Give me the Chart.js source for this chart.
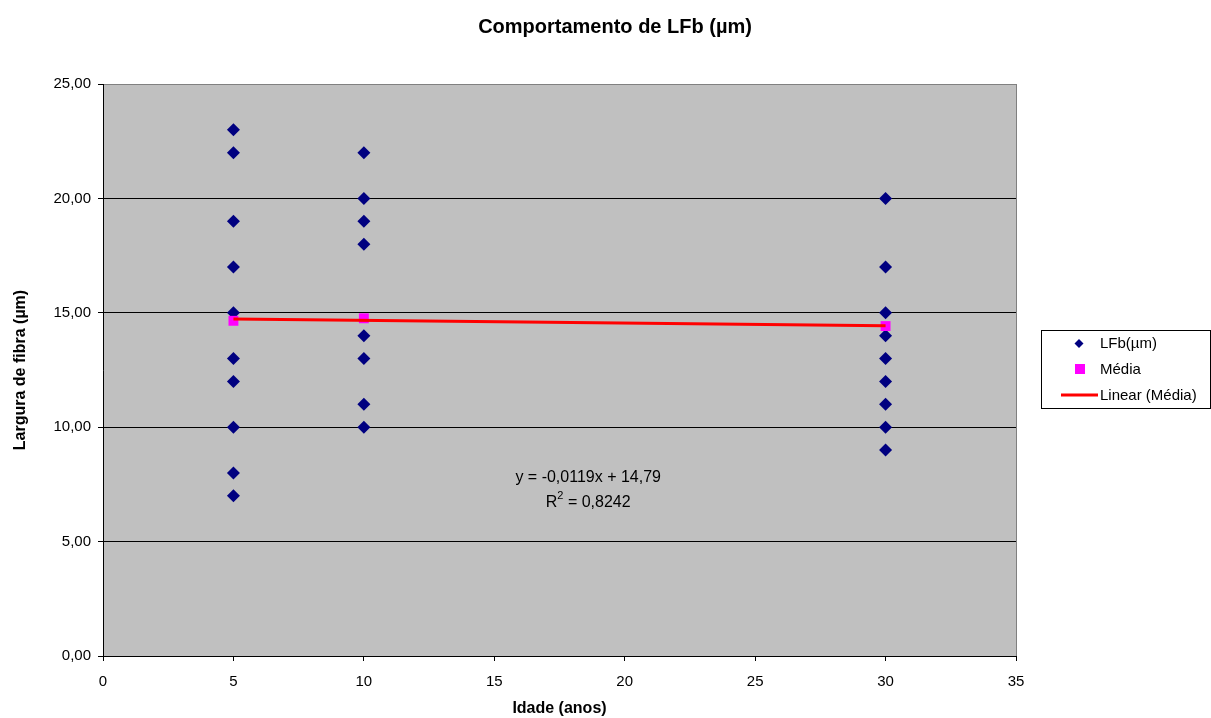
<!DOCTYPE html>
<html lang="pt">
<head>
    <meta charset="UTF-8">
    <title>Comportamento de LFb</title>
    <style>
        body {
            margin: 0;
            background-color: #ffffff;
        }
        #chart {
            display: block;
        }
    </style>
</head>
<body>
    <canvas id="chart" width="1211" height="718"></canvas>

    <script src="https://cdn.jsdelivr.net/npm/chart.js"></script>
    <script>
        // Largura de fibra (µm) por idade
        const idades = [5, 10, 30];
        const lfb5 = [23, 22, 19, 17, 15, 13, 12, 10, 8, 7];
        const lfb10 = [22, 20, 19, 18, 14, 13, 11, 10];
        const lfb30 = [20, 17, 15, 14, 13, 12, 11, 10, 9];
        const medias = [14.65, 14.76, 14.42];

        // linha de tendência: y = -0,0119x + 14,79
        const trendSlope = -0.0119;
        const trendIntercept = 14.79;
        const trendR2 = 0.8242;

        const xTicks = [0, 5, 10, 15, 20, 25, 30, 35];
        const yTicks = [0, 5, 10, 15, 20, 25];

        const FONT = 'Liberation Sans, Arial, sans-serif';
        const fmt = (v, d) => v.toFixed(d).replace('.', ',');

        const pontos = [];
        [lfb5, lfb10, lfb30].forEach((serie, i) => {
            serie.forEach(v => pontos.push({ x: idades[i], y: v }));
        });
        const mediaPts = idades.map((x, i) => ({ x: x, y: medias[i] }));
        const trendPts = [idades[0], idades[idades.length - 1]].map(x => ({
            x: x, y: trendSlope * x + trendIntercept
        }));

        // fundo cinza da área de plotagem
        const plotBg = {
            id: 'plotBg',
            beforeDraw(chart) {
                const { ctx, chartArea: a } = chart;
                ctx.save();
                ctx.fillStyle = '#c0c0c0';
                ctx.fillRect(a.left, a.top, a.right - a.left, a.bottom - a.top);
                ctx.strokeStyle = '#808080';
                ctx.lineWidth = 1;
                ctx.strokeRect(Math.round(a.left) + 0.5, Math.round(a.top) + 0.5,
                    Math.round(a.right - a.left), Math.round(a.bottom - a.top));
                ctx.restore();
            }
        };

        // título, equação e legenda
        const extras = {
            id: 'extras',
            afterDraw(chart) {
                const { ctx, scales: { x, y } } = chart;
                ctx.save();
                ctx.fillStyle = '#000';
                ctx.textBaseline = 'middle';

                ctx.font = 'bold 20px ' + FONT;
                ctx.textAlign = 'center';
                ctx.fillText('Comportamento de LFb (µm)', 615, 27);

                // equação da tendência
                const ex = x.getPixelForValue(18.6);
                const ey = y.getPixelForValue(7.8);
                ctx.font = '16px ' + FONT;
                ctx.fillText('y = ' + fmt(trendSlope, 4) + 'x + ' + fmt(trendIntercept, 2), ex, ey);
                const rest = ' = ' + fmt(trendR2, 4);
                const wR = ctx.measureText('R').width;
                ctx.font = '11px ' + FONT;
                const w2 = ctx.measureText('2').width;
                ctx.font = '16px ' + FONT;
                const wRest = ctx.measureText(rest).width;
                const sx = ex - (wR + w2 + wRest) / 2;
                const ry = ey + 25;
                ctx.textAlign = 'left';
                ctx.fillText('R', sx, ry);
                ctx.font = '11px ' + FONT;
                ctx.fillText('2', sx + wR, ry - 7);
                ctx.font = '16px ' + FONT;
                ctx.fillText(rest, sx + wR + w2, ry);

                // legenda
                ctx.strokeStyle = '#000';
                ctx.lineWidth = 1;
                ctx.strokeRect(1041.5, 330.5, 169, 78);
                ctx.font = '15px ' + FONT;
                ctx.fillStyle = '#000080';
                ctx.beginPath();
                ctx.moveTo(1079, 339);
                ctx.lineTo(1083.5, 343.5);
                ctx.lineTo(1079, 348);
                ctx.lineTo(1074.5, 343.5);
                ctx.closePath();
                ctx.fill();
                ctx.fillStyle = '#ff00ff';
                ctx.fillRect(1075, 364, 10, 10);
                ctx.strokeStyle = '#ff0000';
                ctx.lineWidth = 3;
                ctx.beginPath();
                ctx.moveTo(1061, 395);
                ctx.lineTo(1098, 395);
                ctx.stroke();
                ctx.fillStyle = '#000';
                ctx.fillText('LFb(µm)', 1100, 344);
                ctx.fillText('Média', 1100, 370);
                ctx.fillText('Linear (Média)', 1100, 396);
                ctx.restore();
            }
        };

        const ctx = document.getElementById('chart').getContext('2d');
        const chart = new Chart(ctx, {
            type: 'scatter',
            data: {
                datasets: [
                    {
                        label: 'Linear (Média)',
                        type: 'line',
                        data: trendPts,
                        borderColor: '#ff0000',
                        borderWidth: 3,
                        pointRadius: 0,
                        showLine: true,
                        order: 0
                    },
                    {
                        label: 'Média',
                        data: mediaPts,
                        pointStyle: 'rect',
                        pointRadius: 7,
                        backgroundColor: '#ff00ff',
                        borderColor: '#ff00ff',
                        borderWidth: 0,
                        order: 1
                    },
                    {
                        label: 'LFb(µm)',
                        data: pontos,
                        pointStyle: 'rectRot',
                        pointRadius: 6.5,
                        backgroundColor: '#000080',
                        borderColor: '#000080',
                        borderWidth: 0,
                        order: 2
                    }
                ]
            },
            options: {
                responsive: false,
                animation: false,
                layout: { padding: { top: 84, right: 195, bottom: 0, left: 0 } },
                plugins: {
                    legend: { display: false },
                    tooltip: { enabled: false }
                },
                scales: {
                    x: {
                        type: 'linear',
                        min: 0,
                        max: 35,
                        afterFit: s => { s.height = 62; },
                        afterBuildTicks: s => { s.ticks = xTicks.map(v => ({ value: v })); },
                        border: { color: '#000', width: 1 },
                        grid: { drawOnChartArea: false, tickLength: 5, tickColor: '#000' },
                        ticks: {
                            color: '#000',
                            padding: 12,
                            font: { family: FONT, size: 15 }
                        },
                        title: {
                            display: true,
                            text: 'Idade (anos)',
                            color: '#000',
                            padding: { top: 0, bottom: 0 },
                            font: { family: FONT, size: 16, weight: 'bold' }
                        }
                    },
                    y: {
                        min: 0,
                        max: 25,
                        afterFit: s => { s.width = 103; },
                        afterBuildTicks: s => { s.ticks = yTicks.map(v => ({ value: v })); },
                        border: { color: '#000', width: 1 },
                        grid: {
                            color: c => (c.tick && c.tick.value === 25) ? 'rgba(0,0,0,0)' : '#000',
                            tickLength: 5,
                            tickColor: '#000'
                        },
                        ticks: {
                            color: '#000',
                            padding: 7,
                            font: { family: FONT, size: 15 },
                            callback: v => fmt(v, 2)
                        },
                        title: {
                            display: true,
                            text: 'Largura de fibra (µm)',
                            color: '#000',
                            padding: { top: 11, bottom: 0 },
                            font: { family: FONT, size: 16, weight: 'bold' }
                        }
                    }
                }
            },
            plugins: [plotBg, extras]
        });
    </script>
</body>
</html>
